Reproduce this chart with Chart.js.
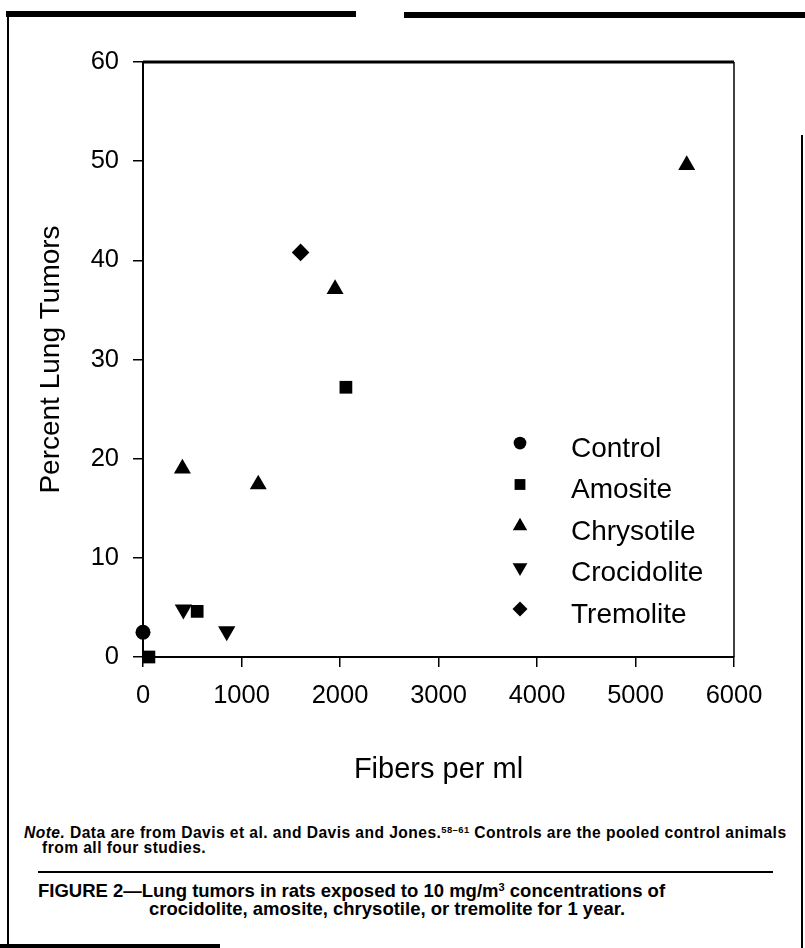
<!DOCTYPE html>
<html>
<head>
<meta charset="utf-8">
<script src="https://cdn.jsdelivr.net/npm/chart.js@4/dist/chart.umd.min.js"></script>
<style>
html,body{margin:0;padding:0;background:#fff;}
body{width:805px;height:948px;position:relative;overflow:hidden;font-family:"Liberation Sans",Arial,Helvetica,sans-serif;color:#000;}
#wrap{position:absolute;left:0;top:0;width:805px;height:800px;}
.rule{position:absolute;background:#000;}
.txt{position:absolute;white-space:nowrap;font-weight:bold;line-height:1;}
.note{font-size:15.6px;letter-spacing:0.45px;}
.cap{font-size:18.5px;}
sup{font-size:60%;vertical-align:0;position:relative;top:-0.5em;}
</style>
</head>
<body>
<div class="rule" style="left:6px;top:11px;width:350px;height:6px;"></div>
<div class="rule" style="left:404px;top:12px;width:401px;height:6px;"></div>
<div class="rule" style="left:7px;top:17px;width:2px;height:931px;"></div>
<div class="rule" style="left:801px;top:135px;width:2px;height:813px;"></div>
<div class="rule" style="left:0px;top:944px;width:220px;height:4px;"></div>
<div class="rule" style="left:38px;top:871px;width:735px;height:2px;"></div>

<div id="wrap"><canvas id="c" width="805" height="800"></canvas></div>

<div class="txt note" style="left:24px;top:825px;"><i>Note.</i> Data are from Davis et al. and Davis and Jones.<sup>58–61</sup> Controls are the pooled control animals</div>
<div class="txt note" style="left:42px;top:840px;">from all four studies.</div>
<div class="txt cap" style="left:38px;top:882px;">FIGURE 2—Lung tumors in rats exposed to 10 mg/m<sup>3</sup> concentrations of</div>
<div class="txt cap" style="left:149px;top:900px;">crocidolite, amosite, chrysotile, or tremolite for 1 year.</div>

<script>
// ---- data ----
const seriesNames = ['Control', 'Amosite', 'Chrysotile', 'Crocidolite', 'Tremolite'];
const controlX = [0];
const controlY = [2.5];
const amositeX = [60, 550, 2060];
const amositeY = [0, 4.6, 27.2];
const chrysotileX = [400, 1170, 1950, 5520];
const chrysotileY = [19.0, 17.4, 37.1, 49.6];
const crocidoliteX = [410, 850];
const crocidoliteY = [4.8, 2.6];
const tremoliteX = [1600];
const tremoliteY = [40.8];
const xTicks = [0, 1000, 2000, 3000, 4000, 5000, 6000];
const yTicks = [0, 10, 20, 30, 40, 50, 60];
const xTitle = 'Fibers per ml';
const yTitle = 'Percent Lung Tumors';

const FONT = '"Liberation Sans", Arial, Helvetica, sans-serif';
const pts = (xs, ys) => xs.map((x, i) => ({x: x, y: ys[i]}));

const styles = [
  {pointStyle: 'circle', pointRadius: 7.5, pointRotation: 0},
  {pointStyle: 'rect', pointRadius: 9, pointRotation: 0},
  {pointStyle: 'triangle', pointRadius: 9.8, pointRotation: 0},
  {pointStyle: 'triangle', pointRadius: 10, pointRotation: 180},
  {pointStyle: 'rectRot', pointRadius: 8.8, pointRotation: 0}
];
const seriesData = [
  pts(controlX, controlY),
  pts(amositeX, amositeY),
  pts(chrysotileX, chrysotileY),
  pts(crocidoliteX, crocidoliteY),
  pts(tremoliteX, tremoliteY)
];

const datasets = seriesNames.map((name, i) => Object.assign({
  label: name,
  data: seriesData[i],
  backgroundColor: '#000',
  borderColor: '#000',
  borderWidth: 0,
  showLine: false,
  clip: false
}, styles[i]));

const frame = {
  id: 'frame',
  beforeDatasetsDraw(chart) {
    const {ctx, chartArea: a} = chart;
    ctx.save();
    ctx.strokeStyle = '#000';
    ctx.lineWidth = 3;
    ctx.beginPath(); ctx.moveTo(a.left, a.top); ctx.lineTo(a.right, a.top); ctx.stroke();
    ctx.lineWidth = 1.5;
    ctx.beginPath(); ctx.moveTo(a.right, a.top); ctx.lineTo(a.right, a.bottom); ctx.stroke();
    ctx.restore();
  }
};

const boxLegend = {
  id: 'boxLegend',
  afterDatasetsDraw(chart, args, o) {
    const ctx = chart.ctx;
    ctx.save();
    chart.data.datasets.forEach((ds, i) => {
      const y = o.y0 + i * o.dy;
      ctx.fillStyle = '#000';
      ctx.strokeStyle = '#000';
      Chart.helpers.drawPoint(ctx, {
        pointStyle: ds.pointStyle,
        rotation: ds.pointRotation || 0,
        radius: ds.pointRadius * o.scale,
        borderWidth: 0
      }, o.x, y);
      ctx.font = o.size + 'px ' + FONT;
      ctx.textBaseline = 'middle';
      ctx.textAlign = 'left';
      ctx.fillText(ds.label, o.textX, y + o.textDy);
    });
    ctx.restore();
  }
};

const axisCommon = (ticksArr) => ({
  type: 'linear',
  min: ticksArr[0],
  max: ticksArr[ticksArr.length - 1],
  afterBuildTicks: s => { s.ticks = ticksArr.map(v => ({value: v})); },
  border: {display: true, color: '#000', width: 2},
  grid: {display: true, drawOnChartArea: false, drawTicks: true, tickLength: 10, color: '#000', lineWidth: 1.5},
});

new Chart(document.getElementById('c'), {
  type: 'scatter',
  data: {datasets: datasets},
  plugins: [frame, boxLegend],
  options: {
    responsive: false,
    animation: false,
    events: [],
    layout: {padding: {left: 0, top: 62, right: 71, bottom: 0}},
    plugins: {
      legend: {display: false},
      tooltip: {enabled: false},
      boxLegend: {x: 520, y0: 443, dy: 41.5, scale: 0.85, textX: 571, textDy: 6, size: 28}
    },
    scales: {
      x: Object.assign(axisCommon(xTicks), {
        position: 'bottom',
        ticks: {color: '#000', font: {family: FONT, size: 25.5}, padding: 14, maxRotation: 0, autoSkip: false, callback: v => String(v)},
        title: {display: true, text: xTitle, color: '#000', font: {family: FONT, size: 29}, padding: {top: 0, bottom: 13}},
        afterFit: s => { s.height = 143; }
      }),
      y: Object.assign(axisCommon(yTicks), {
        position: 'left',
        ticks: {color: '#000', font: {family: FONT, size: 25.5}, padding: 14, autoSkip: false, callback: v => String(v)},
        title: {display: true, text: yTitle, color: '#000', font: {family: FONT, size: 28}, padding: {top: 34, bottom: 0}},
        afterFit: s => { s.width = 143; }
      })
    }
  }
});
</script>
</body>
</html>
